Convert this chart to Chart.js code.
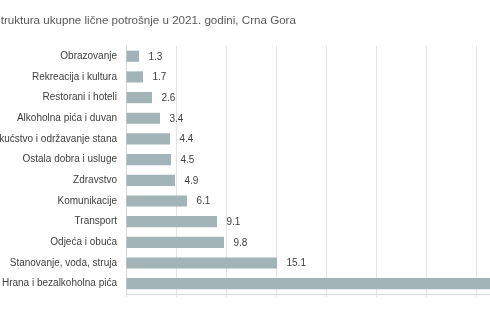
<!DOCTYPE html>
<html>
<head>
<meta charset="utf-8">
<script src="https://cdn.jsdelivr.net/npm/chart.js@4/dist/chart.umd.min.js"></script>
<style>
  html, body { margin: 0; padding: 0; background: #fff; overflow: hidden; width: 490px; height: 326px; }
  #wrap { position: absolute; left: -20px; top: 0; width: 560px; height: 326px; }
</style>
</head>
<body>
<div id="wrap"><canvas id="c" width="560" height="326"></canvas></div>
<script>
// Struktura ukupne lične potrošnje (%), Crna Gora 2021
const categories = [
  'Obrazovanje',
  'Rekreacija i kultura',
  'Restorani i hoteli',
  'Alkoholna pića i duvan',
  'Pokućstvo i održavanje stana',
  'Ostala dobra i usluge',
  'Zdravstvo',
  'Komunikacije',
  'Transport',
  'Odjeća i obuća',
  'Stanovanje, voda, struja',
  'Hrana i bezalkoholna pića'
];
const shares = [1.3, 1.7, 2.6, 3.4, 4.4, 4.5, 4.9, 6.1, 9.1, 9.8, 15.1, 37.1];
const axisMax = 40;
const axisStep = 5;

const FONT = '"Liberation Sans", Arial, sans-serif';

// writes each share just right of its bar
const valueLabels = {
  id: 'valueLabels',
  afterDatasetsDraw(chart) {
    const ctx = chart.ctx;
    const meta = chart.getDatasetMeta(0);
    ctx.save();
    ctx.font = '10px ' + FONT;
    ctx.fillStyle = '#404040';
    ctx.textAlign = 'left';
    ctx.textBaseline = 'middle';
    meta.data.forEach((bar, i) => {
      ctx.fillText(shares[i].toFixed(1), bar.x + 9.5, bar.y + 0.5);
    });
    ctx.restore();
  }
};

new Chart(document.getElementById('c'), {
  type: 'bar',
  data: {
    labels: categories,
    datasets: [{
      data: shares,
      backgroundColor: '#a3b4b9',
      borderWidth: 0,
      barPercentage: 0.54,
      categoryPercentage: 1.0
    }]
  },
  options: {
    indexAxis: 'y',
    responsive: false,
    animation: false,
    devicePixelRatio: 1,
    layout: { padding: { left: 13, right: 14, top: 0, bottom: 29 } },
    plugins: {
      legend: { display: false },
      tooltip: { enabled: false },
      title: {
        display: true,
        text: 'Struktura ukupne lične potrošnje u 2021. godini, Crna Gora',
        align: 'start',
        color: '#595959',
        font: { family: FONT, size: 11.6, weight: 'normal', lineHeight: 1.2 },
        padding: { top: 14, bottom: 18 }
      }
    },
    scales: {
      x: {
        min: 0,
        max: axisMax,
        ticks: { display: false, stepSize: axisStep },
        grid: { color: '#e4e4e4', lineWidth: 1, drawTicks: true, tickLength: 3 },
        border: { display: true, color: '#dadada' }
      },
      y: {
        ticks: {
          color: '#404040',
          font: { family: FONT, size: 10 },
          padding: 9,
          autoSkip: false
        },
        grid: { display: false, drawTicks: false },
        border: { display: true, color: '#d6d6d6' },
        afterFit(scale) { scale.width = 133; }
      }
    }
  },
  plugins: [valueLabels]
});
</script>
</body>
</html>
